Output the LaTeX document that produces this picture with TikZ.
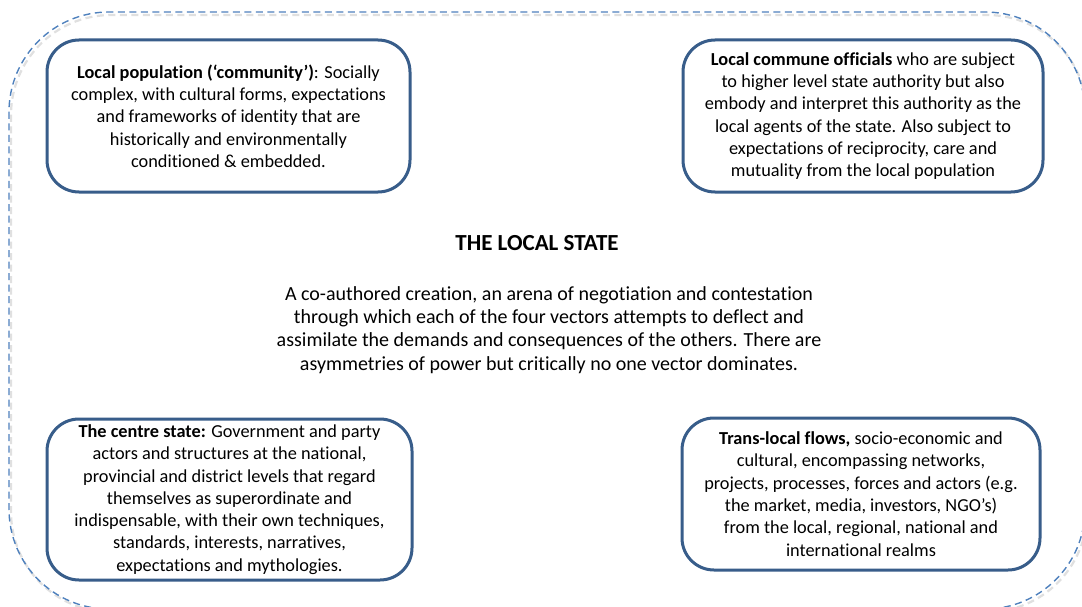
\documentclass[tikz,border=0pt]{standalone}
\usepackage{fontspec}
\setmainfont{Carlito}[Ligatures={TeX,NoCommon}]
\definecolor{dashblue}{RGB}{79,129,189}
\definecolor{boxblue}{RGB}{56,93,138}
\tikzset{
  vecbox/.style={draw=boxblue, line width=3pt, rounded corners=32pt, fill=white,
    align=center, inner sep=0pt, font=\fontsize{18.3}{22.3}\selectfont, text=black},
  arena/.style={draw=dashblue, line width=1.4pt, dash pattern=on 7pt off 4.5pt, rounded corners=100pt},
  arenashadow/.style={draw=black!12, line width=2.2pt, dash pattern=on 7pt off 4.5pt, rounded corners=100pt}
}
\begin{document}
\begin{tikzpicture}[x=1pt,y=-1pt]
\useasboundingbox (0,0) rectangle (1082,607);
\clip (0,0) rectangle (1082,607);
\fill[white] (0,0) rectangle (1082,607);
\draw[arenashadow] (11,15) rectangle (1087,612);
\draw[arena] (9,12) rectangle (1085,609);

\node[vecbox, minimum width=363pt, minimum height=152pt] (pop) at (228.5,116) {%
\textbf{Local population (‘community’)}: Socially\\
complex, with cultural forms, expectations\\
and frameworks of identity that are\\
historically and environmentally\\
conditioned \& embedded.};

\node[vecbox, minimum width=360pt, minimum height=152pt] (comm) at (863,116) {%
\textbf{Local commune officials} who are subject\\
to higher level state authority but also\\
embody and interpret this authority as the\\
local agents of the state. Also subject to\\
expectations of reciprocity, care and\\
mutuality from the local population};

\node[vecbox, minimum width=365pt, minimum height=161pt] (centre) at (229.5,499.5) {%
\textbf{The centre state:} Government and party\\
actors and structures at the national,\\
provincial and district levels that regard\\
themselves as superordinate and\\
indispensable, with their own techniques,\\
standards, interests, narratives,\\
expectations and mythologies.};

\node[vecbox, minimum width=358pt, minimum height=152pt] (flows) at (861,494) {%
\textbf{Trans-local flows,} socio-economic and\\
cultural, encompassing networks,\\
projects, processes, forces and actors (e.g.\\
the market, media, investors, NGO’s)\\
from the local, regional, national and\\
international realms};

\node[anchor=base, font=\fontsize{23}{26}\selectfont\bfseries, inner sep=0pt] (title) at (537,250) {THE LOCAL STATE};

\node[align=center, inner sep=0pt, font=\fontsize{20}{23.3}\selectfont] (desc) at (549,330) {%
A co-authored creation, an arena of negotiation and contestation\\
through which each of the four vectors attempts to deflect and\\
assimilate the demands and consequences of the others. There are\\
asymmetries of power but critically no one vector dominates.};
\end{tikzpicture}
\end{document}
